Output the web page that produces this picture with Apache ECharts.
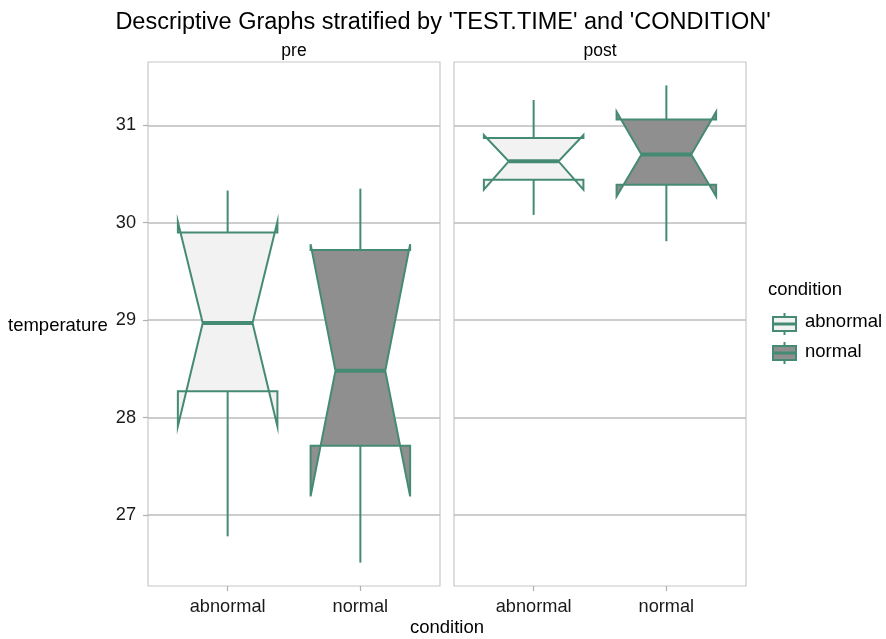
<!DOCTYPE html>
<html>
<head>
<meta charset="utf-8">
<script src="https://cdn.jsdelivr.net/npm/echarts@6/dist/echarts.min.js"></script>
<style>html,body{margin:0;padding:0;background:#fff;}#c{width:886px;height:639px;}</style>
</head>
<body>
<div id="c"></div>
<script>
// ---- data ----
const categories = ['abnormal', 'normal'];
const panels = ['pre', 'post'];
const yTicks = [27, 28, 29, 30, 31];
// pre panel
const preLower     = [26.78, 26.51];
const preQ1        = [28.27, 27.71];
const preMedian    = [28.97, 28.48];
const preQ3        = [29.90, 29.72];
const preUpper     = [30.33, 30.35];
const preNotchLow  = [27.91, 27.19];
const preNotchHigh = [30.01, 29.78];
// post panel
const postLower     = [30.08, 29.81];
const postQ1        = [30.44, 30.39];
const postMedian    = [30.63, 30.70];
const postQ3        = [30.87, 31.06];
const postUpper     = [31.26, 31.41];
const postNotchLow  = [30.34, 30.27];
const postNotchHigh = [30.90, 31.14];

const fills = ['#F2F2F2', '#8F8F8F'];
const stroke = '#458B74';
const FONT = 'Liberation Sans, Arial, sans-serif';

function rows(lo, q1, med, q3, hi, nlo, nhi) {
  return categories.map((c, i) => [i + 1, lo[i], q1[i], med[i], q3[i], hi[i], nlo[i], nhi[i], i]);
}
const panelData = [
  rows(preLower, preQ1, preMedian, preQ3, preUpper, preNotchLow, preNotchHigh),
  rows(postLower, postQ1, postMedian, postQ3, postUpper, postNotchLow, postNotchHigh)
];

function renderItem(params, api) {
  const x = api.value(0), lo = api.value(1), q1 = api.value(2), med = api.value(3),
        q3 = api.value(4), hi = api.value(5), nlo = api.value(6), nhi = api.value(7),
        ci = api.value(8);
  const hw = 0.375, nw = 0.1875;
  const P = (a, b) => api.coord([a, b]);
  const poly = [
    P(x - hw, q3), P(x - hw, nhi), P(x - hw + nw, med), P(x - hw, nlo), P(x - hw, q1),
    P(x + hw, q1), P(x + hw, nlo), P(x + hw - nw, med), P(x + hw, nhi), P(x + hw, q3)
  ];
  return {
    type: 'group',
    children: [
      { type: 'line', shape: { x1: P(x, q3)[0], y1: P(x, q3)[1], x2: P(x, hi)[0], y2: P(x, hi)[1] },
        style: { stroke: stroke, lineWidth: 2 } },
      { type: 'line', shape: { x1: P(x, q1)[0], y1: P(x, q1)[1], x2: P(x, lo)[0], y2: P(x, lo)[1] },
        style: { stroke: stroke, lineWidth: 2 } },
      { type: 'polygon', shape: { points: poly },
        style: { fill: fills[ci], stroke: stroke, lineWidth: 2, lineJoin: 'miter' } },
      { type: 'line', shape: { x1: P(x - hw + nw, med)[0], y1: P(x, med)[1], x2: P(x + hw - nw, med)[0], y2: P(x, med)[1] },
        style: { stroke: stroke, lineWidth: 4 } }
    ]
  };
}

const gridLefts = [148, 454];
const grids = gridLefts.map(l => ({
  left: l, width: 292, top: 62, height: 524,
  show: true, borderColor: '#c8c8c8', borderWidth: 1.2, backgroundColor: '#fff'
}));

const xAxes = panels.map((p, i) => ({
  type: 'value', gridIndex: i, min: 0.4, max: 2.6,
  axisLine: { show: false },
  splitLine: { show: false },
  axisTick: { show: true, customValues: [1, 2], length: 5, lineStyle: { color: '#b0b0b0', width: 1.2 } },
  axisLabel: { customValues: [1, 2], formatter: v => categories[Math.round(v) - 1] || '',
               fontSize: 18.2, color: '#1a1a1a', fontFamily: FONT, margin: 12 }
}));

const yAxes = panels.map((p, i) => ({
  type: 'value', gridIndex: i, min: 26.27, max: 31.65,
  axisLine: { show: false },
  splitLine: { show: true, lineStyle: { color: '#bdbdbd', width: 1.6 } },
  axisTick: { show: i === 0, customValues: yTicks, length: 5, lineStyle: { color: '#b0b0b0', width: 1.2 } },
  axisLabel: { show: i === 0, customValues: yTicks, fontSize: 18.2, color: '#1a1a1a', fontFamily: FONT, margin: 12 }
}));

const series = panels.map((p, i) => ({
  type: 'custom', xAxisIndex: i, yAxisIndex: i,
  renderItem: renderItem,
  encode: { x: 0, y: [1, 2, 3, 4, 5, 6, 7] },
  data: panelData[i],
  silent: true, clip: false
}));

// legend glyphs
function legendGlyph(y, fill) {
  return [
    { type: 'line', shape: { x1: 784.5, y1: y - 11, x2: 784.5, y2: y + 11 }, style: { stroke: stroke, lineWidth: 2 } },
    { type: 'rect', shape: { x: 773, y: y - 7, width: 23, height: 14 }, style: { fill: fill, stroke: stroke, lineWidth: 2 } },
    { type: 'line', shape: { x1: 773, y1: y, x2: 796, y2: y }, style: { stroke: stroke, lineWidth: 3 } }
  ];
}

function txt(x, y, s, size, align) {
  return { type: 'text', x: x, y: y,
           style: { text: s, fontSize: size, fill: '#000', fontFamily: FONT, textAlign: align || 'left', textVerticalAlign: 'middle' } };
}

const graphic = [
  txt(294, 51, panels[0], 17.5, 'center'),
  txt(600, 51, panels[1], 17.5, 'center'),
  txt(8, 326, 'temperature', 18.5),
  txt(447, 628, 'condition', 18.5, 'center'),
  txt(768, 290, 'condition', 18.5),
  ...legendGlyph(324, fills[0]),
  ...legendGlyph(353, fills[1]),
  txt(805, 322, categories[0], 18.5),
  txt(805, 352, categories[1], 18.5)
];

const chart = echarts.init(document.getElementById('c'), null, { renderer: 'canvas' });
chart.setOption({
  animation: false,
  backgroundColor: '#fff',
  title: { text: "Descriptive Graphs stratified by 'TEST.TIME' and 'CONDITION'", left: 'center', top: 6,
           textStyle: { fontSize: 23.5, fontWeight: 'normal', color: '#000', fontFamily: FONT } },
  grid: grids, xAxis: xAxes, yAxis: yAxes, series: series, graphic: graphic
});
</script>
</body>
</html>
